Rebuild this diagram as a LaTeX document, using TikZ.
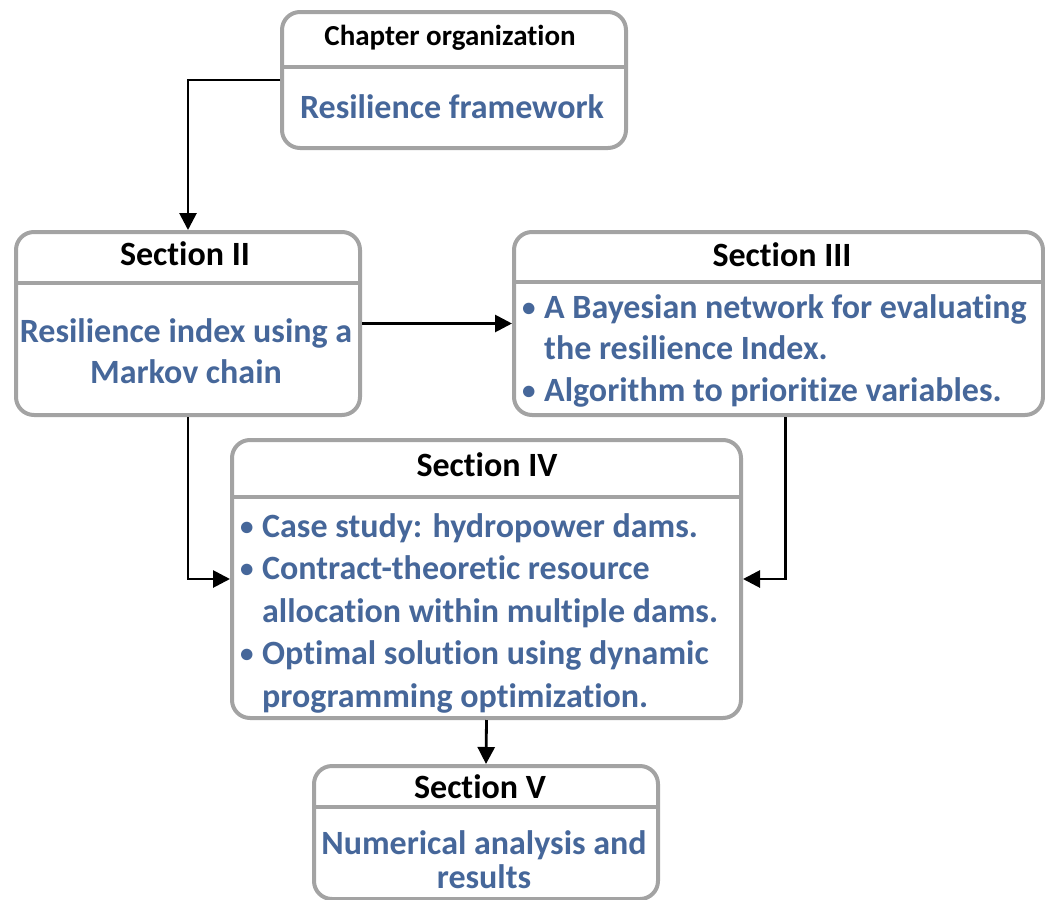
\documentclass[tikz,border=0pt]{standalone}
\usepackage{fontspec}
\setmainfont[Ligatures=NoCommon]{Carlito}
\usetikzlibrary{arrows.meta}
\definecolor{bodyblue}{HTML}{46679A}
\definecolor{framegray}{HTML}{A3A3A3}

% bullet item and its continuation line
\newcommand{\bmark}{\makebox[22pt][l]{\raisebox{2pt}{\fontsize{27}{27}\selectfont\textbullet}}}
\newcommand{\bitem}[1]{\bmark#1}
\newcommand{\bcont}[1]{\hspace*{22pt}#1}

\begin{document}
\begin{tikzpicture}[x=1pt,y=-1pt,
  panel/.style={draw=framegray, line width=4pt, rounded corners=18pt,
    fill=white, inner sep=0pt, anchor=north west},
  divider/.style={draw=framegray, line width=4pt},
  headtext/.style={font=\bfseries\fontsize{29}{34}\selectfont, text=black, inner sep=0pt},
  titletext/.style={font=\bfseries\fontsize{34}{40}\selectfont, text=black, inner sep=0pt},
  bodytext/.style={font=\bfseries\fontsize{34}{41.5}\selectfont, text=bodyblue, inner sep=0pt},
  link/.style={line width=2.8pt, -{Triangle[length=17pt,width=17pt]}}
]
\useasboundingbox (0,0) rectangle (1045,900);

% frames
\node[panel, minimum width=344pt, minimum height=136pt] (ch) at (280,10) {};
\node[panel, minimum width=344pt, minimum height=183pt] (s2) at (14,230) {};
\node[panel, minimum width=529pt, minimum height=183pt] (s3) at (512,230) {};
\node[panel, minimum width=509pt, minimum height=278pt] (s4) at (230,438) {};
\node[panel, minimum width=344pt, minimum height=133pt] (s5) at (312,764) {};

% header separators
\draw[divider] (ch.west |- 0,67) -- (ch.east |- 0,67);
\draw[divider] (s2.west |- 0,283) -- (s2.east |- 0,283);
\draw[divider] (s3.west |- 0,282) -- (s3.east |- 0,282);
\draw[divider] (s4.west |- 0,497) -- (s4.east |- 0,497);
\draw[divider] (s5.west |- 0,807) -- (s5.east |- 0,807);

% headings
\node[headtext] (chT) at (450,38) {Chapter organization};
\node[titletext] (s2T) at (185,254) {Section II};
\node[titletext] (s3T) at (782,255) {Section III};
\node[titletext] (s4T) at (487,465) {Section IV};
\node[titletext] (s5T) at (480,787) {Section V};

% contents
\node[bodytext] (chB) at (452,107) {Resilience framework};
\node[bodytext, align=center] (s2B) at (186,351) {Resilience index using a\\Markov chain};
\node[bodytext, align=left, anchor=north west] (s3B) at (522,294)
  {\bitem{A Bayesian network for evaluating}\\
   \bcont{the resilience Index.}\\
   \bitem{Algorithm to prioritize variables.}};
\node[bodytext, align=left, anchor=north west,
      font=\bfseries\fontsize{34}{42.5}\selectfont] (s4B) at (240,513)
  {\bitem{Case study: hydropower dams.}\\
   \bitem{Contract-theoretic resource}\\
   \bcont{allocation within multiple dams.}\\
   \bitem{Optimal solution using dynamic}\\
   \bcont{programming optimization.}};
\node[bodytext, align=center, font=\bfseries\fontsize{34}{34}\selectfont] (s5B) at (484,860)
  {Numerical analysis and\\results};

% connectors
\draw[link] (ch.west) -| (s2.north);
\draw[link] (s2.east) -- (s3.west);
\draw[link] (s2.south) |- (s4.west);
\draw[link] ([xshift=7pt]s3.south) |- (s4.east);
\draw[link] (s4.south) -- (s5.north);
\end{tikzpicture}
\end{document}
